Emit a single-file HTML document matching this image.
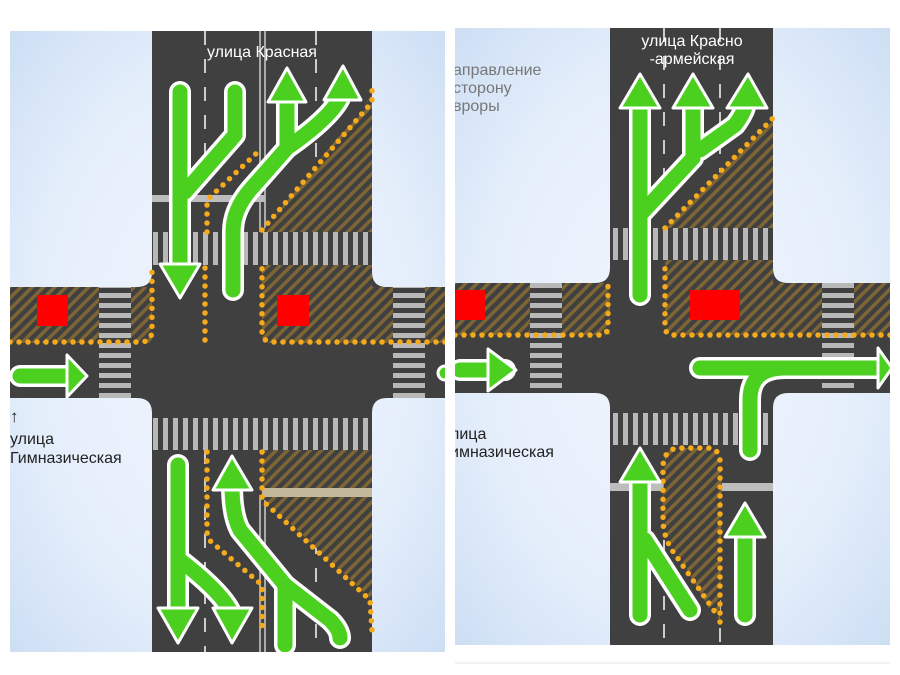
<!DOCTYPE html>
<html><head><meta charset="utf-8"><style>
html,body{margin:0;padding:0;background:#fff;width:900px;height:675px;overflow:hidden}
svg{display:block}
text{font-family:"Liberation Sans","DejaVu Sans",sans-serif}
</style></head><body>
<svg width="900" height="675" viewBox="0 0 900 675" xmlns="http://www.w3.org/2000/svg">
<defs>
<radialGradient id="bg" cx="0.5" cy="0.5" r="0.75">
<stop offset="0" stop-color="#f2f6fd"/><stop offset="0.6" stop-color="#e4eefb"/><stop offset="1" stop-color="#c9dcf3"/>
</radialGradient>
<pattern id="hatch" width="8" height="8" patternUnits="userSpaceOnUse" patternTransform="rotate(45)">
<rect width="8" height="8" fill="#404040"/><rect width="3.5" height="8" fill="#7d6535"/>
</pattern>
<pattern id="vstripe" width="10" height="10" patternUnits="userSpaceOnUse">
<rect width="10" height="10" fill="#404040"/><rect x="3" width="5" height="10" fill="#b8b8b8"/>
</pattern>
<pattern id="hstripe" width="10" height="10" patternUnits="userSpaceOnUse">
<rect width="10" height="10" fill="#404040"/><rect y="3" width="10" height="5" fill="#b8b8b8"/>
</pattern>
<clipPath id="cl"><rect x="10" y="31" width="435" height="621"/></clipPath>
<clipPath id="cr"><rect x="455" y="28" width="435" height="617"/></clipPath>
</defs>

<!-- LEFT PANEL -->
<g clip-path="url(#cl)">
<rect x="10" y="31" width="435" height="621" fill="url(#bg)"/>
<rect x="152" y="31" width="220" height="621" fill="#404040"/>
<rect x="10" y="287" width="435" height="111" fill="#404040"/>
<path d="M137 287 Q152 287 152 272 L152 287Z M372 272 Q372 287 387 287 L372 287Z M137 398 Q152 398 152 413 L152 398Z M387 398 Q372 398 372 413 L372 398Z" fill="#404040"/>
<line x1="205" y1="31" x2="205" y2="200" stroke="#ccc" stroke-width="2" stroke-dasharray="14 14"/>
<line x1="316" y1="31" x2="316" y2="190" stroke="#ccc" stroke-width="2" stroke-dasharray="14 14"/>
<line x1="260" y1="31" x2="260" y2="232" stroke="#ccc" stroke-width="1.5"/>
<line x1="265" y1="31" x2="265" y2="232" stroke="#ccc" stroke-width="1.5"/>
<rect x="152" y="195" width="113" height="7" fill="#bdbdbd"/>
<polygon points="372,95 372,232 262,232" fill="url(#hatch)"/>
<rect x="152" y="232" width="220" height="33" fill="url(#vstripe)"/>
<rect x="152" y="418" width="220" height="32" fill="url(#vstripe)"/>
<rect x="99" y="287" width="32" height="111" fill="url(#hstripe)"/>
<rect x="393" y="287" width="32" height="111" fill="url(#hstripe)"/>
<rect x="10" y="287" width="89" height="56" fill="url(#hatch)"/>
<path d="M131 287 L145 287 Q152 287 152 300 L152 343 L131 343Z" fill="url(#hatch)"/>
<rect x="37" y="295" width="31" height="31" fill="#f00"/>
<path d="M262 265 L372 265 L372 287 L393 287 L393 343 L270 343 Q262 343 262 335Z" fill="url(#hatch)"/>
<rect x="425" y="287" width="20" height="56" fill="url(#hatch)"/>
<rect x="277" y="295" width="32" height="31" fill="#f00"/>
<line x1="205" y1="450" x2="205" y2="652" stroke="#ccc" stroke-width="2" stroke-dasharray="14 14"/>
<line x1="316" y1="540" x2="316" y2="652" stroke="#ccc" stroke-width="2" stroke-dasharray="14 14"/>
<line x1="260" y1="495" x2="260" y2="652" stroke="#ccc" stroke-width="1.5"/>
<line x1="265" y1="495" x2="265" y2="652" stroke="#ccc" stroke-width="1.5"/>
<polygon points="262,450 372,450 372,600 265,500 262,500" fill="url(#hatch)"/>
<rect x="262" y="488" width="110" height="9" fill="#c4b89a"/>
<g fill="none" stroke="#f5aa1c" stroke-width="5.5" stroke-linecap="round" stroke-dasharray="0 9">
<path d="M10 342 L140 342 Q152 342 152 330 L152 265"/>
<path d="M445 342 L272 342 Q262 342 262 330 L262 265"/>
<path d="M205 340 L205 265"/>
<path d="M207 232 L207 200 L262 148"/>
<path d="M262 230 L372 102 L372 88"/>
<path d="M207 452 L207 530 Q207 540 215 545 L262 585 L262 630"/>
<path d="M262 452 L262 500 L370 600 L372 630"/>
</g>
<g fill="none" stroke-linecap="round" stroke-linejoin="round">
<g stroke="#fff" stroke-width="22">
<path d="M180 92 L180 270"/><path d="M235 92 L235 135 L185 192"/>
<path d="M233 290 L233 232 Q233 210 250 190 L287 148 L287 98"/><path d="M287 148 Q330 118 340 98"/>
<path d="M20 376 L70 376"/>
<path d="M178 465 L178 615"/><path d="M180 560 Q225 595 232 615"/>
<path d="M285 645 L285 585 L240 530 Q232 515 232 485"/><path d="M285 585 L330 620 Q340 630 340 638"/>
</g>
<g stroke="#4cd01f" stroke-width="15">
<path d="M180 92 L180 270"/><path d="M235 92 L235 135 L185 192"/>
<path d="M233 290 L233 232 Q233 210 250 190 L287 148 L287 98"/><path d="M287 148 Q330 118 340 98"/>
<path d="M20 376 L70 376"/>
<path d="M178 465 L178 615"/><path d="M180 560 Q225 595 232 615"/>
<path d="M285 645 L285 585 L240 530 Q232 515 232 485"/><path d="M285 585 L330 620 Q340 630 340 638"/>
</g>
</g>
<g fill="#4cd01f" stroke="#fff" stroke-width="3" stroke-linejoin="round">
<polygon points="160,264 200,264 180,298"/>
<polygon points="268,102 306,102 287,68"/>
<polygon points="324,100 361,100 343,66"/>
<polygon points="67,355 67,397 87,376"/>
<polygon points="158,608 198,608 178,643"/>
<polygon points="213,608 252,608 232,643"/>
<polygon points="213,490 252,490 232,456"/>
</g>
<circle cx="445" cy="373" r="7" fill="#4cd01f" stroke="#fff" stroke-width="3"/>
<text x="262" y="57" fill="#fff" font-size="16" text-anchor="middle">улица Красная</text>
<text x="10" y="422" fill="#222" font-size="17">↑</text>
<text x="10" y="444" fill="#222" font-size="16">улица</text>
<text x="10" y="463" fill="#222" font-size="16">Гимназическая</text>
</g>

<!-- RIGHT PANEL -->
<g clip-path="url(#cr)">
<rect x="455" y="28" width="435" height="617" fill="url(#bg)"/>
<rect x="610" y="28" width="163" height="617" fill="#404040"/>
<rect x="455" y="283" width="435" height="110" fill="#404040"/>
<path d="M595 283 Q610 283 610 268 L610 283Z M773 268 Q773 283 788 283 L773 283Z M595 393 Q610 393 610 408 L610 393Z M788 393 Q773 393 773 408 L773 393Z" fill="#404040"/>
<line x1="664" y1="28" x2="664" y2="200" stroke="#ccc" stroke-width="2" stroke-dasharray="14 14"/>
<line x1="720" y1="28" x2="720" y2="200" stroke="#ccc" stroke-width="2" stroke-dasharray="14 14"/>
<polygon points="773,118 773,228 665,228" fill="url(#hatch)"/>
<rect x="610" y="228" width="163" height="32" fill="url(#vstripe)"/>
<rect x="610" y="413" width="163" height="32" fill="url(#vstripe)"/>
<rect x="530" y="283" width="32" height="110" fill="url(#hstripe)"/>
<rect x="822" y="283" width="32" height="110" fill="url(#hstripe)"/>
<rect x="455" y="283" width="75" height="52" fill="url(#hatch)"/>
<path d="M562 283 L603 283 Q610 283 610 295 L610 335 L562 335Z" fill="url(#hatch)"/>
<rect x="455" y="290" width="30" height="30" fill="#f00"/>
<path d="M665 260 L773 260 L773 283 L822 283 L822 335 L672 335 Q665 335 665 328Z" fill="url(#hatch)"/>
<rect x="854" y="283" width="36" height="52" fill="url(#hatch)"/>
<rect x="690" y="290" width="50" height="30" fill="#f00"/>
<line x1="664" y1="540" x2="664" y2="645" stroke="#ccc" stroke-width="2" stroke-dasharray="14 14"/>
<line x1="720" y1="600" x2="720" y2="645" stroke="#ccc" stroke-width="2" stroke-dasharray="14 14"/>
<rect x="610" y="483" width="163" height="8" fill="#bdbdbd"/>
<path d="M665 455 Q668 448 680 448 L710 448 Q722 448 722 470 L720 620 L710 610 L670 540 Q663 525 663 500Z" fill="url(#hatch)"/>
<g fill="none" stroke="#f5aa1c" stroke-width="5.5" stroke-linecap="round" stroke-dasharray="0 9">
<path d="M455 335 L600 335 Q608 335 608 325 L608 283"/>
<path d="M890 335 L672 335 Q665 335 665 325 L665 260"/>
<path d="M665 228 L773 118"/>
<path d="M720 622 L720 470 Q722 448 708 448 L680 448 Q665 448 663 465 L663 520 Q663 535 672 550 L715 612"/>
</g>
<g fill="none" stroke-linecap="round" stroke-linejoin="round">
<g stroke="#fff" stroke-width="22">
<path d="M640 295 L640 100"/><path d="M640 215 L693 158 L693 100"/><path d="M700 150 L735 125 Q745 112 747 100"/>
<path d="M460 370 L505 370"/>
<path d="M700 368 L880 368"/><path d="M785 368 Q750 368 750 400 L750 450"/>
<path d="M640 615 L640 475"/><path d="M690 610 L645 540"/>
<path d="M745 615 L745 530"/>
</g>
<g stroke="#4cd01f" stroke-width="15">
<path d="M640 295 L640 100"/><path d="M640 215 L693 158 L693 100"/><path d="M700 150 L735 125 Q745 112 747 100"/>
<path d="M460 370 L505 370"/>
<path d="M700 368 L880 368"/><path d="M785 368 Q750 368 750 400 L750 450"/>
<path d="M640 615 L640 475"/><path d="M690 610 L645 540"/>
<path d="M745 615 L745 530"/>
</g>
</g>
<g fill="#4cd01f" stroke="#fff" stroke-width="3" stroke-linejoin="round">
<polygon points="620,108 660,108 640,74"/>
<polygon points="673,108 713,108 693,74"/>
<polygon points="727,108 767,108 748,74"/>
<polygon points="488,349 488,391 516,370"/>
<polygon points="878,348 878,388 892,368"/>
<polygon points="620,482 660,482 640,448"/>
<polygon points="725,537 765,537 745,503"/>
</g>
<text x="692" y="46" fill="#fff" font-size="16" text-anchor="middle">улица Красно</text>
<text x="692" y="64" fill="#fff" font-size="16" text-anchor="middle">-армейская</text>
<text x="453" y="75" fill="#777" font-size="16">аправление</text>
<text x="453" y="93" fill="#777" font-size="16">сторону</text>
<text x="453" y="111" fill="#777" font-size="16">вроры</text>
<text x="450" y="439" fill="#222" font-size="16">лица</text>
<text x="450" y="457" fill="#222" font-size="16">имназическая</text>
</g>
<line x1="455" y1="663" x2="890" y2="663" stroke="#e6e6e6" stroke-width="1"/>
</svg>
</body></html>
